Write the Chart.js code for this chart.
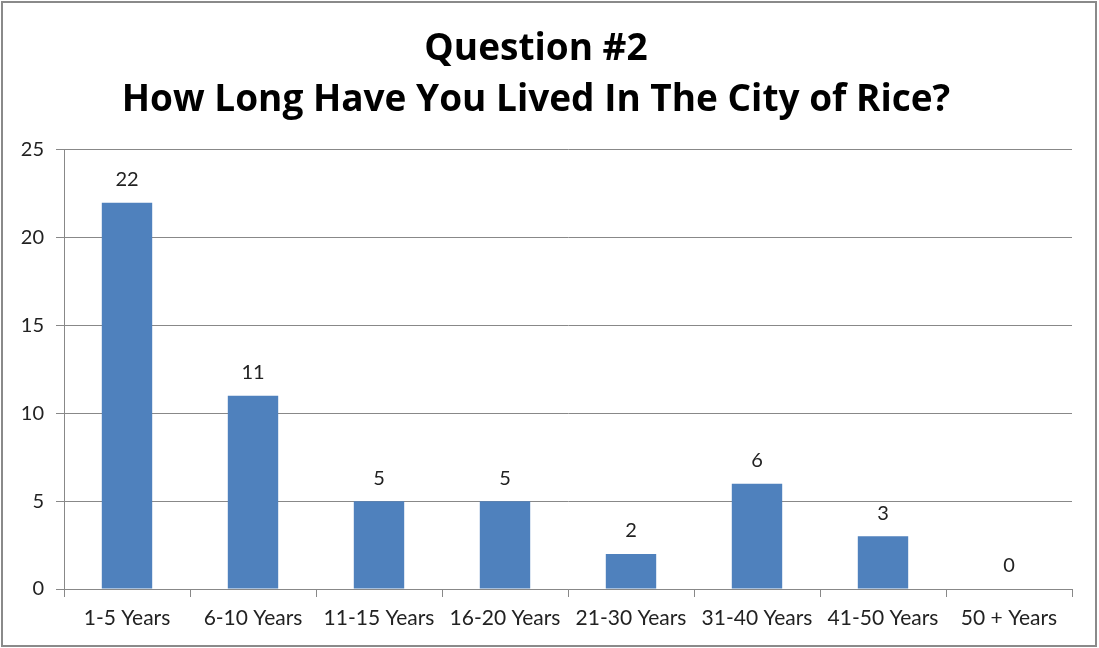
<!DOCTYPE html>
<html>
<head>
<meta charset="utf-8">
<script src="https://cdn.jsdelivr.net/npm/chart.js@4.4.0/dist/chart.umd.min.js"></script>
<style>
  html, body { margin: 0; padding: 0; background: #fff; }
  #wrap { position: relative; width: 1099px; height: 648px; }
</style>
</head>
<body>
<div id="wrap"><canvas id="surveyChart" width="1099" height="648"></canvas></div>
<script>
const titleLines = ['Question #2', 'How Long Have You Lived In The City of Rice?'];
const categories = ['1-5 Years', '6-10 Years', '11-15 Years', '16-20 Years', '21-30 Years', '31-40 Years', '41-50 Years', '50 + Years'];
const responses = [22, 11, 5, 5, 2, 6, 3, 0];
const yTicks = [0, 5, 10, 15, 20, 25];

// outer frame + value labels above each bar
const framePlugin = {
  id: 'frame',
  beforeDraw(chart) {
    const c = chart.ctx;
    c.save();
    c.fillStyle = '#fff';
    c.fillRect(0, 0, chart.width, chart.height);
    c.strokeStyle = '#8a8a8a';
    c.lineWidth = 2;
    c.strokeRect(2, 2, chart.width - 5, chart.height - 4);
    c.restore();
  },
  afterDatasetsDraw(chart) {
    const c = chart.ctx;
    const meta = chart.getDatasetMeta(0);
    c.save();
    c.font = '20px Lato';
    c.fillStyle = '#222';
    c.textAlign = 'center';
    c.textBaseline = 'middle';
    meta.data.forEach((bar, i) => {
      c.fillText(String(responses[i]), bar.x, bar.y - 23);
    });
    c.restore();
  }
};

const ctx = document.getElementById('surveyChart');
new Chart(ctx, {
  type: 'bar',
  data: {
    labels: categories,
    datasets: [{
      data: responses,
      backgroundColor: '#4F81BD',
      borderWidth: 0,
      barPercentage: 0.4,
      categoryPercentage: 1
    }]
  },
  options: {
    responsive: false,
    animation: false,
    layout: { padding: { top: 0, left: 0, right: 27, bottom: 0 } },
    plugins: {
      legend: { display: false },
      tooltip: { enabled: false },
      title: {
        display: true,
        text: titleLines,
        color: '#000',
        font: { family: 'Open Sans', size: 37, weight: 'bold', lineHeight: 1.378 },
        padding: { top: 24, bottom: 24 }
      }
    },
    scales: {
      x: {
        grid: { drawOnChartArea: false, offset: true, tickLength: 8, color: '#888' },
        border: { color: '#888' },
        ticks: { color: '#222', font: { family: 'Lato', size: 21 }, padding: 9, maxRotation: 0 },
        afterFit(scale) { scale.height = 59; }
      },
      y: {
        min: 0,
        max: 25,
        afterBuildTicks(scale) { scale.ticks = yTicks.map(v => ({ value: v })); },
        grid: { color: '#888', tickLength: 8 },
        border: { color: '#888' },
        ticks: { color: '#222', font: { family: 'Lato', size: 20 }, padding: 12 },
        afterFit(scale) { scale.width = 64; }
      }
    }
  },
  plugins: [framePlugin]
});
</script>
</body>
</html>
